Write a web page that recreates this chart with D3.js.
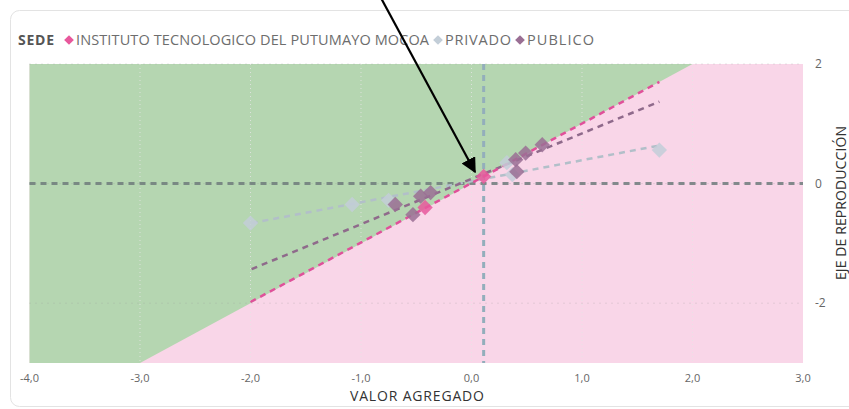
<!DOCTYPE html>
<html>
<head>
<meta charset="utf-8">
<script src="https://cdn.jsdelivr.net/npm/d3@7"></script>
<style>
  body { margin: 0; background: #fff; font-family: 'Open Sans', 'Noto Sans', sans-serif; }
  svg text { fill: #666; }
</style>
</head>
<body>
<div class="graph-container"></div>
<script>
var svgWidth = 849;
var svgHeight = 409;

// plot box
var plotLeft = 29.5, plotRight = 803, plotTop = 64, plotBottom = 363;

// series names and colours
var seriesNames = ['INSTITUTO TECNOLOGICO DEL PUTUMAYO MOCOA', 'PRIVADO', 'PUBLICO'];
var seriesColors = ['#e8589c', '#c3ced8', '#9a6f94'];

// points [valor agregado, eje de reproduccion]
var itpPoints = [[0.11, 0.12], [-0.42, -0.40]];
var privadoPoints = [[-2.0, -0.66], [-1.08, -0.35], [-0.75, -0.28], [0.32, 0.35], [0.37, 0.15], [1.70, 0.56]];
var publicoPoints = [[-0.69, -0.35], [-0.53, -0.52], [-0.46, -0.21], [-0.37, -0.15], [0.41, 0.20], [0.40, 0.40], [0.49, 0.51], [0.64, 0.65]];

// trend lines, start and end
var itpTrend = [[-2.0, -1.98], [1.70, 1.70]];
var privadoTrend = [[-1.99, -0.66], [1.68, 0.63]];
var publicoTrend = [[-1.99, -1.43], [1.70, 1.37]];

// reference lines
var refX = 0.11;
var refY = 0;

var xTicks = [-4, -3, -2, -1, 0, 1, 2, 3];
var yTicks = [-2, 0, 2];

var svg = d3.select('.graph-container').append('svg')
  .attr('width', svgWidth)
  .attr('height', svgHeight);

// card
svg.append('rect')
  .attr('x', 10.5).attr('y', 10.5)
  .attr('width', 880).attr('height', 396)
  .attr('rx', 9)
  .attr('fill', '#fff')
  .attr('stroke', '#e3e3e3');

var xScale = d3.scaleLinear().domain([-4, 3]).range([plotLeft, plotRight]);
var yScale = d3.scaleLinear().domain([-3, 2]).range([plotBottom, plotTop]);

// background areas: green above y = x, pink below
svg.append('rect')
  .attr('x', plotLeft).attr('y', plotTop)
  .attr('width', plotRight - plotLeft).attr('height', plotBottom - plotTop)
  .attr('fill', '#f9d6e8');

var greenPoly = [[-4, -3], [-3, -3], [2, 2], [-4, 2]];
svg.append('path')
  .attr('d', d3.line().x(function(d) { return xScale(d[0]); }).y(function(d) { return yScale(d[1]); })(greenPoly) + 'Z')
  .attr('fill', '#b5d6b1');

// gridlines
var grid = svg.append('g');
grid.selectAll('.gx')
  .data(xTicks.slice(1, -1))
  .enter().append('line')
  .attr('x1', function(d) { return xScale(d); })
  .attr('x2', function(d) { return xScale(d); })
  .attr('y1', plotTop).attr('y2', plotBottom)
  .attr('stroke', '#e6e6e6').attr('stroke-width', 1)
  .attr('stroke-dasharray', '1,3')
  .attr('opacity', 0.8);
grid.selectAll('.gy')
  .data(yTicks)
  .enter().append('line')
  .attr('x1', plotLeft).attr('x2', plotRight)
  .attr('y1', function(d) { return yScale(d); })
  .attr('y2', function(d) { return yScale(d); })
  .attr('stroke', '#9a9a9a').attr('stroke-width', 1)
  .attr('stroke-dasharray', '1,5')
  .attr('opacity', 0.45);

// reference lines
svg.append('line')
  .attr('x1', xScale(refX)).attr('x2', xScale(refX))
  .attr('y1', plotTop).attr('y2', plotBottom)
  .attr('stroke', '#93aebb').attr('stroke-width', 3)
  .attr('stroke-dasharray', '6,5');
svg.append('line')
  .attr('x1', plotLeft).attr('x2', plotRight)
  .attr('y1', yScale(refY)).attr('y2', yScale(refY))
  .attr('stroke', '#6f7c7c').attr('stroke-width', 3)
  .attr('stroke-dasharray', '6,5')
  .attr('opacity', 0.85);

// trend lines
var line = d3.line().x(function(d) { return xScale(d[0]); }).y(function(d) { return yScale(d[1]); });
var trends = [
  { data: privadoTrend, color: '#b2bfc9' },
  { data: publicoTrend, color: '#8f6a8b' },
  { data: itpTrend, color: '#e0509a' }
];
trends.forEach(function(t) {
  svg.append('path')
    .attr('d', line(t.data))
    .attr('fill', 'none')
    .attr('stroke', t.color)
    .attr('stroke-width', 2.5)
    .attr('stroke-dasharray', '6,5');
});

// points
var diamond = d3.symbol().type(d3.symbolDiamond2).size(150);
var series = [
  { data: privadoPoints, color: seriesColors[1] },
  { data: publicoPoints, color: seriesColors[2] },
  { data: itpPoints, color: seriesColors[0] }
];
series.forEach(function(s) {
  svg.append('g').selectAll('path')
    .data(s.data)
    .enter().append('path')
    .attr('d', diamond)
    .attr('transform', function(d) { return 'translate(' + xScale(d[0]) + ',' + yScale(d[1]) + ')'; })
    .attr('fill', s.color)
    .attr('opacity', 0.85);
});

// x axis labels
svg.append('g').selectAll('text')
  .data(xTicks)
  .enter().append('text')
  .attr('x', function(d) { return xScale(d); })
  .attr('y', 382)
  .style('text-anchor', 'middle')
  .style('font-size', '11px')
  .text(function(d) { return d3.format('.1f')(d).replace('.', ',').replace('−', '-'); });

// y axis labels, right side
svg.append('g').selectAll('text')
  .data(yTicks)
  .enter().append('text')
  .attr('x', 815)
  .attr('y', function(d) { return yScale(d) + 4; })
  .style('font-size', '12px')
  .text(function(d) { return d; });

// axis titles
svg.append('text')
  .attr('x', 417).attr('y', 401)
  .style('text-anchor', 'middle')
  .style('font-size', '14px')
  .style('fill', '#333')
  .attr('textLength', 134)
  .text('VALOR AGREGADO');

svg.append('text')
  .attr('transform', 'translate(846,' + 203 + ') rotate(-90)')
  .style('text-anchor', 'middle')
  .style('font-size', '14px')
  .style('fill', '#333')
  .attr('textLength', 154)
  .text('EJE DE REPRODUCCIÓN');

// legend
var legend = svg.append('g').attr('transform', 'translate(0,45)');
legend.append('text')
  .attr('x', 18).attr('y', 0)
  .style('font-size', '14px')
  .style('font-weight', 'bold')
  .style('fill', '#555')
  .attr('textLength', 36)
  .text('SEDE');
var legendX = [69, 438, 520];
var legendW = [353, 66, 67];
var legendSymbol = d3.symbol().type(d3.symbolDiamond2).size(60);
seriesNames.forEach(function(name, i) {
  legend.append('path')
    .attr('d', legendSymbol)
    .attr('transform', 'translate(' + legendX[i] + ',-5)')
    .attr('fill', seriesColors[i]);
  legend.append('text')
    .attr('x', legendX[i] + 7).attr('y', 0)
    .style('font-size', '14.5px')
    .style('fill', '#6d6d6d')
    .attr('textLength', legendW[i])
    .text(name);
});

// annotation arrow
var defs = svg.append('defs');
defs.append('marker')
  .attr('id', 'arrowhead')
  .attr('viewBox', '0 0 10 10')
  .attr('refX', 9).attr('refY', 5)
  .attr('markerWidth', 7).attr('markerHeight', 7)
  .attr('markerUnits', 'strokeWidth')
  .attr('orient', 'auto')
  .append('path')
  .attr('d', 'M0,0 L10,5 L0,10 Z')
  .attr('fill', '#000');
svg.append('line')
  .attr('x1', 381).attr('y1', -2)
  .attr('x2', 475).attr('y2', 172)
  .attr('stroke', '#000').attr('stroke-width', 2.2)
  .attr('marker-end', 'url(#arrowhead)');
</script>
</body>
</html>
